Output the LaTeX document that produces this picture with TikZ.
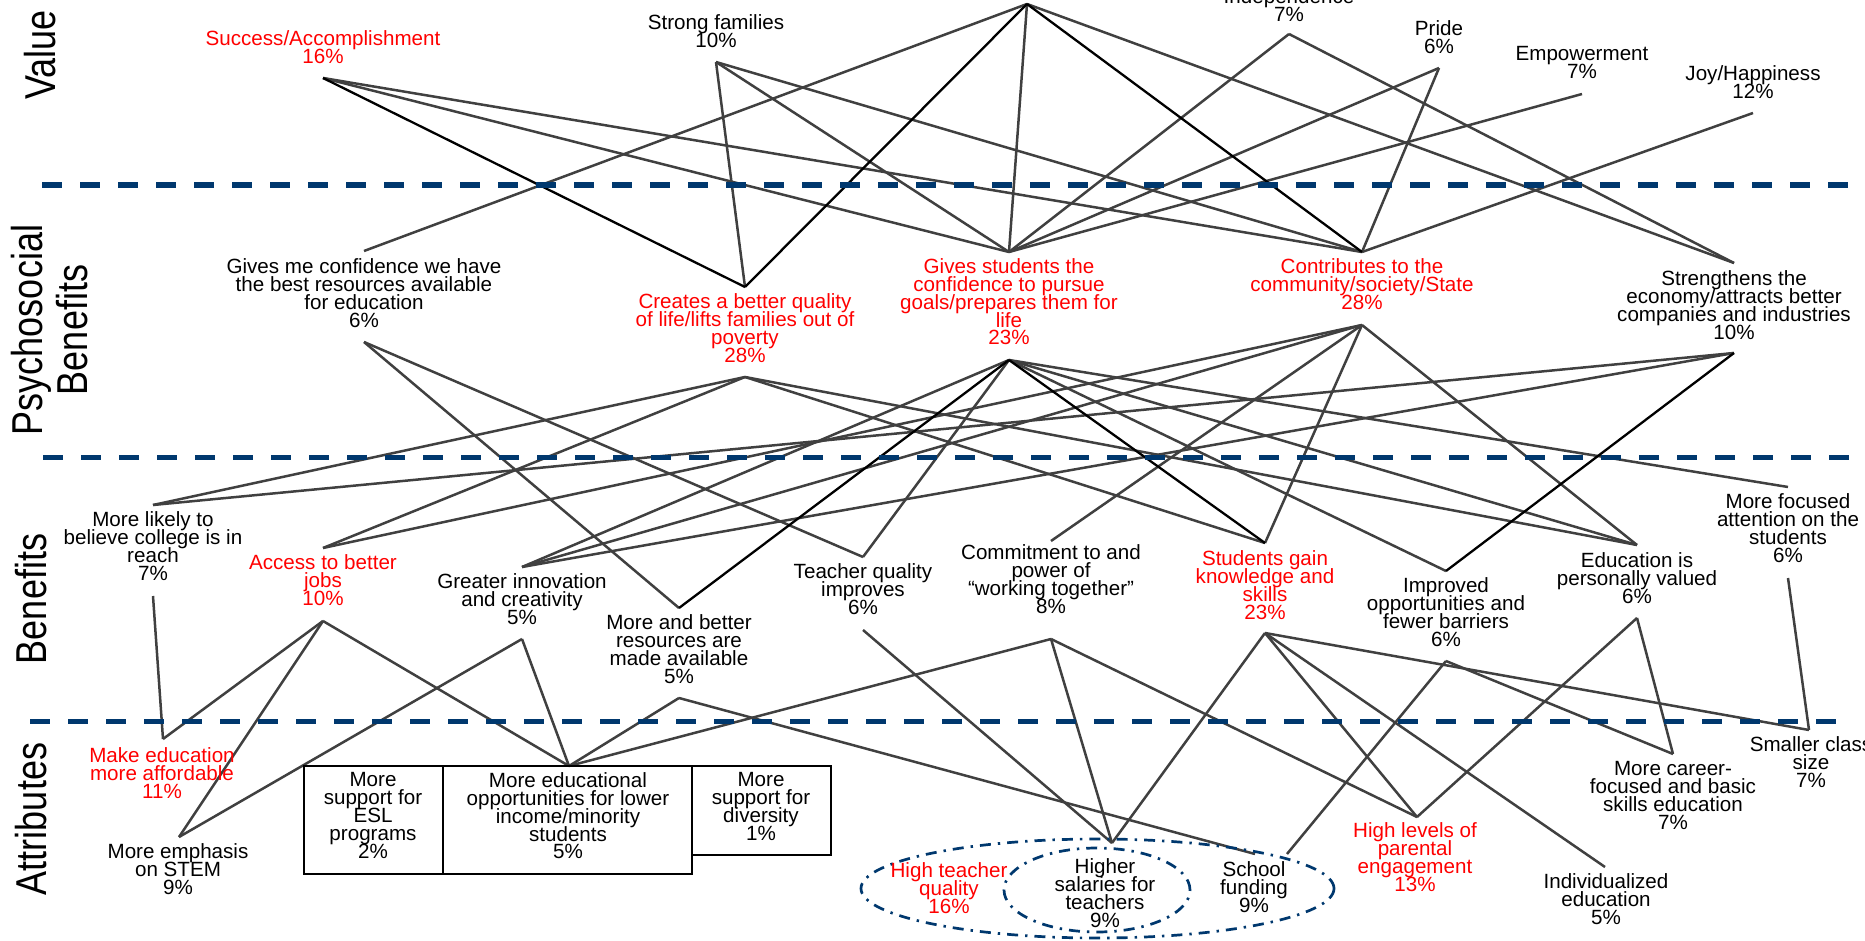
\documentclass[tikz,border=0pt]{standalone}
\usepackage{fontspec}
\setmainfont{Liberation Sans}
\usepackage{graphicx}
\definecolor{sepblue}{RGB}{0,56,110}
\definecolor{linegray}{RGB}{64,64,64}
\definecolor{lblred}{RGB}{255,0,0}
\newcommand{\lblfont}{\fontsize{10.3}{8.9}\selectfont\lineskiplimit=-50pt\relax\lineskip=0pt\relax}
\newcommand{\sidefont}{\fontsize{18}{18.3}\selectfont}
\begin{document}
\begin{tikzpicture}[x=0.5pt,y=-0.5pt,
  lbl/.style={anchor=north,inner sep=0pt,align=center,font=\lblfont},
  redlbl/.style={lbl,text=lblred},
  conn/.style={draw=linegray,line width=1.25pt},
  darkconn/.style={draw=black,line width=1.15pt},
  sep/.style={draw=sepblue,line width=2.75pt,dash pattern=on 10pt off 9pt},
  side/.style={rotate=90,inner sep=0pt,font=\sidefont},
  boxed/.style={draw=black,line width=1.2pt},
  oval/.style={draw=sepblue,line width=1.35pt,dash pattern=on 5.5pt off 3.5pt on 1.2pt off 3.5pt},
]
\useasboundingbox (0,0) rectangle (1865,941);
\clip (0,0) rectangle (1865,941);

% ---------- anchor points ----------
\coordinate (topv) at (1027,4);
\coordinate (succ-b) at (323,78);
\coordinate (strong-b) at (716,62);
\coordinate (indep-b) at (1289,34);
\coordinate (pride-b) at (1439,68);
\coordinate (empow-b) at (1582,94);
\coordinate (joy-b) at (1753,113);

\coordinate (gconf-t) at (364,251);   \coordinate (gconf-b) at (364,342);
\coordinate (creates-t) at (745,287); \coordinate (creates-b) at (745,377);
\coordinate (gstud-t) at (1009,252);  \coordinate (gstud-b) at (1009,360);
\coordinate (contr-t) at (1362,252);  \coordinate (contr-b) at (1362,325);
\coordinate (stren-t) at (1734,263);  \coordinate (stren-b) at (1734,353);

\coordinate (likely-t) at (153,505);  \coordinate (likely-b) at (153,596);
\coordinate (access-t) at (323,548);  \coordinate (access-b) at (323,621);
\coordinate (innov-t) at (522,567);   \coordinate (innov-b) at (522,639);
\coordinate (resou-t) at (679,608);   \coordinate (resou-b) at (679,698);
\coordinate (teach-t) at (863,557);   \coordinate (teach-b) at (863,630);
\coordinate (commit-t) at (1051,541); \coordinate (commit-b) at (1051,639);
\coordinate (sgain-t) at (1265,543);  \coordinate (sgain-b) at (1265,633);
\coordinate (improv-t) at (1446,571); \coordinate (improv-b) at (1446,661);
\coordinate (eduval-t) at (1637,545); \coordinate (eduval-b) at (1637,618);
\coordinate (focus-t) at (1788,487);  \coordinate (focus-b) at (1788,578);

\coordinate (afford-t) at (163,739);
\coordinate (stem-t) at (179,837);
\coordinate (edopp-t) at (569,766);
\coordinate (salar-t) at (1112,843);
\coordinate (fundL) at (1255,854);
\coordinate (fundR) at (1287,854);
\coordinate (paren-t) at (1417,817);
\coordinate (indiv-t) at (1605,867);
\coordinate (career-t) at (1673,754);
\coordinate (small-t) at (1809,730);

% ---------- connectors ----------
\foreach \a/\b in {succ-b/gstud-t,succ-b/contr-t,strong-b/creates-t,strong-b/gstud-t,
  strong-b/contr-t,topv/gconf-t,topv/gstud-t,topv/stren-t,indep-b/gstud-t,indep-b/stren-t,
  pride-b/gstud-t,pride-b/contr-t,empow-b/gstud-t,joy-b/contr-t,
  gconf-b/resou-t,gconf-b/teach-t,creates-b/likely-t,creates-b/access-t,creates-b/sgain-t,
  creates-b/eduval-t,gstud-b/innov-t,gstud-b/teach-t,gstud-b/improv-t,gstud-b/eduval-t,
  gstud-b/focus-t,contr-b/access-t,contr-b/innov-t,contr-b/commit-t,contr-b/sgain-t,
  contr-b/eduval-t,stren-b/likely-t,stren-b/innov-t,
  likely-b/afford-t,access-b/afford-t,access-b/stem-t,access-b/edopp-t,innov-b/stem-t,
  innov-b/edopp-t,resou-b/edopp-t,resou-b/fundL,teach-b/salar-t,commit-b/edopp-t,
  commit-b/salar-t,commit-b/paren-t,sgain-b/salar-t,sgain-b/paren-t,sgain-b/indiv-t,
  sgain-b/small-t,improv-b/fundR,improv-b/career-t,eduval-b/paren-t,eduval-b/career-t,
  focus-b/small-t}
  \draw[conn] (\a) -- (\b);
\foreach \a/\b in {succ-b/creates-t,topv/creates-t,topv/contr-t,gstud-b/resou-t,
  gstud-b/sgain-t,stren-b/improv-t}
  \draw[darkconn] (\a) -- (\b);

% ---------- level separators ----------
\coordinate (s1a) at (42,185);  \coordinate (s1b) at (1856,185);
\coordinate (s2a) at (43,457.5); \coordinate (s2b) at (1853,457.5);
\coordinate (s3a) at (30,721.7); \coordinate (s3b) at (1843,721.7);
\draw[sep] (s1a) -- (s1b);
\draw[sep] (s2a) -- (s2b);
\draw[sep] (s3a) -- (s3b);

% ---------- side labels ----------
\node[side] (valuelbl) at (40,55) {\scalebox{1}[1.2]{Value}};
\node[side] (psychlbl) at (56,330) {\scalebox{1}[1.2]{\begin{tabular}{@{}c@{}}Psychosocial\\Benefits\end{tabular}}};
\node[side] (benlbl) at (31,599) {\scalebox{1}[1.2]{Benefits}};
\node[side] (attlbl) at (31.5,819) {\scalebox{1}[1.2]{Attributes}};

% ---------- value level ----------
\node[redlbl] (succ) at (323,30.3) {Success/Accomplishment\\16\%};
\node[lbl] (strong) at (716,14.3) {Strong families\\10\%};
\node[lbl] (indep) at (1289,-11.7) {Independence\\7\%};
\node[lbl] (pride) at (1439,20.3) {Pride\\6\%};
\node[lbl] (empow) at (1582,46.3) {Empowerment\\7\%};
\node[lbl] (joy) at (1753,65.3) {Joy/Happiness\\12\%};

% ---------- psychosocial level ----------
\node[lbl] (gconf) at (364,258.3) {Gives me confidence we have\\the best resources available\\for education\\6\%};
\node[redlbl] (creates) at (745,293.3) {Creates a better quality\\of life/lifts families out of\\poverty\\28\%};
\node[redlbl] (gstud) at (1009,258.3) {Gives students the\\confidence to pursue\\goals/prepares them for\\life\\23\%};
\node[redlbl] (contr) at (1362,258.3) {Contributes to the\\community/society/State\\28\%};
\node[lbl] (stren) at (1734,270.3) {Strengthens the\\economy/attracts better\\companies and industries\\10\%};

% ---------- benefits level ----------
\node[lbl] (likely) at (153,511.3) {More likely to\\believe college is in\\reach\\7\%};
\node[redlbl] (access) at (323,554.3) {Access to better\\jobs\\10\%};
\node[lbl] (innov) at (522,573.3) {Greater innovation\\and creativity\\5\%};
\node[lbl] (resou) at (679,614.3) {More and better\\resources are\\made available\\5\%};
\node[lbl] (teach) at (863,563.3) {Teacher quality\\improves\\6\%};
\node[lbl] (commit) at (1051,544.3) {Commitment to and\\power of\\“working together”\\8\%};
\node[redlbl] (sgain) at (1265,550.3) {Students gain\\knowledge and\\skills\\23\%};
\node[lbl] (improv) at (1446,577.3) {Improved\\opportunities and\\fewer barriers\\6\%};
\node[lbl] (eduval) at (1637,552.3) {Education is\\personally valued\\6\%};
\node[lbl] (focus) at (1788,493.3) {More focused\\attention on the\\students\\6\%};

% ---------- attributes level ----------
\draw[boxed] (304,766) rectangle (443,874);
\draw[boxed] (443,766) rectangle (692,874);
\draw[boxed] (692,766) rectangle (831,855);
\draw[oval] (1097.5,888.5) ellipse [x radius=118.25pt, y radius=24.75pt];
\draw[oval] (1097,890) ellipse [x radius=46.5pt, y radius=21pt];

\node[redlbl] (afford) at (162,747.3) {Make education\\more affordable\\11\%};
\node[lbl] (stem) at (178,843.3) {More emphasis\\on STEM\\9\%};
\node[lbl] (esl) at (373,772.3) {More\\support for\\ESL\\programs\\2\%};
\node[lbl] (edopp) at (568,772.3) {More educational\\opportunities for lower\\income/minority\\students\\5\%};
\node[lbl] (divers) at (761,772.3) {More\\support for\\diversity\\1\%};
\node[redlbl] (hteach) at (949,862.3) {High teacher\\quality\\16\%};
\node[lbl] (salar) at (1105,858.3) {Higher\\salaries for\\teachers\\9\%};
\node[lbl] (fund) at (1254,861.3) {School\\funding\\9\%};
\node[redlbl] (paren) at (1415,822.3) {High levels of\\parental\\engagement\\13\%};
\node[lbl] (indiv) at (1606,873.3) {Individualized\\education\\5\%};
\node[lbl] (career) at (1673,761.3) {More career-\\focused and basic\\skills education\\7\%};
\node[lbl] (small) at (1811,736.3) {Smaller class\\size\\7\%};
\end{tikzpicture}
\end{document}
